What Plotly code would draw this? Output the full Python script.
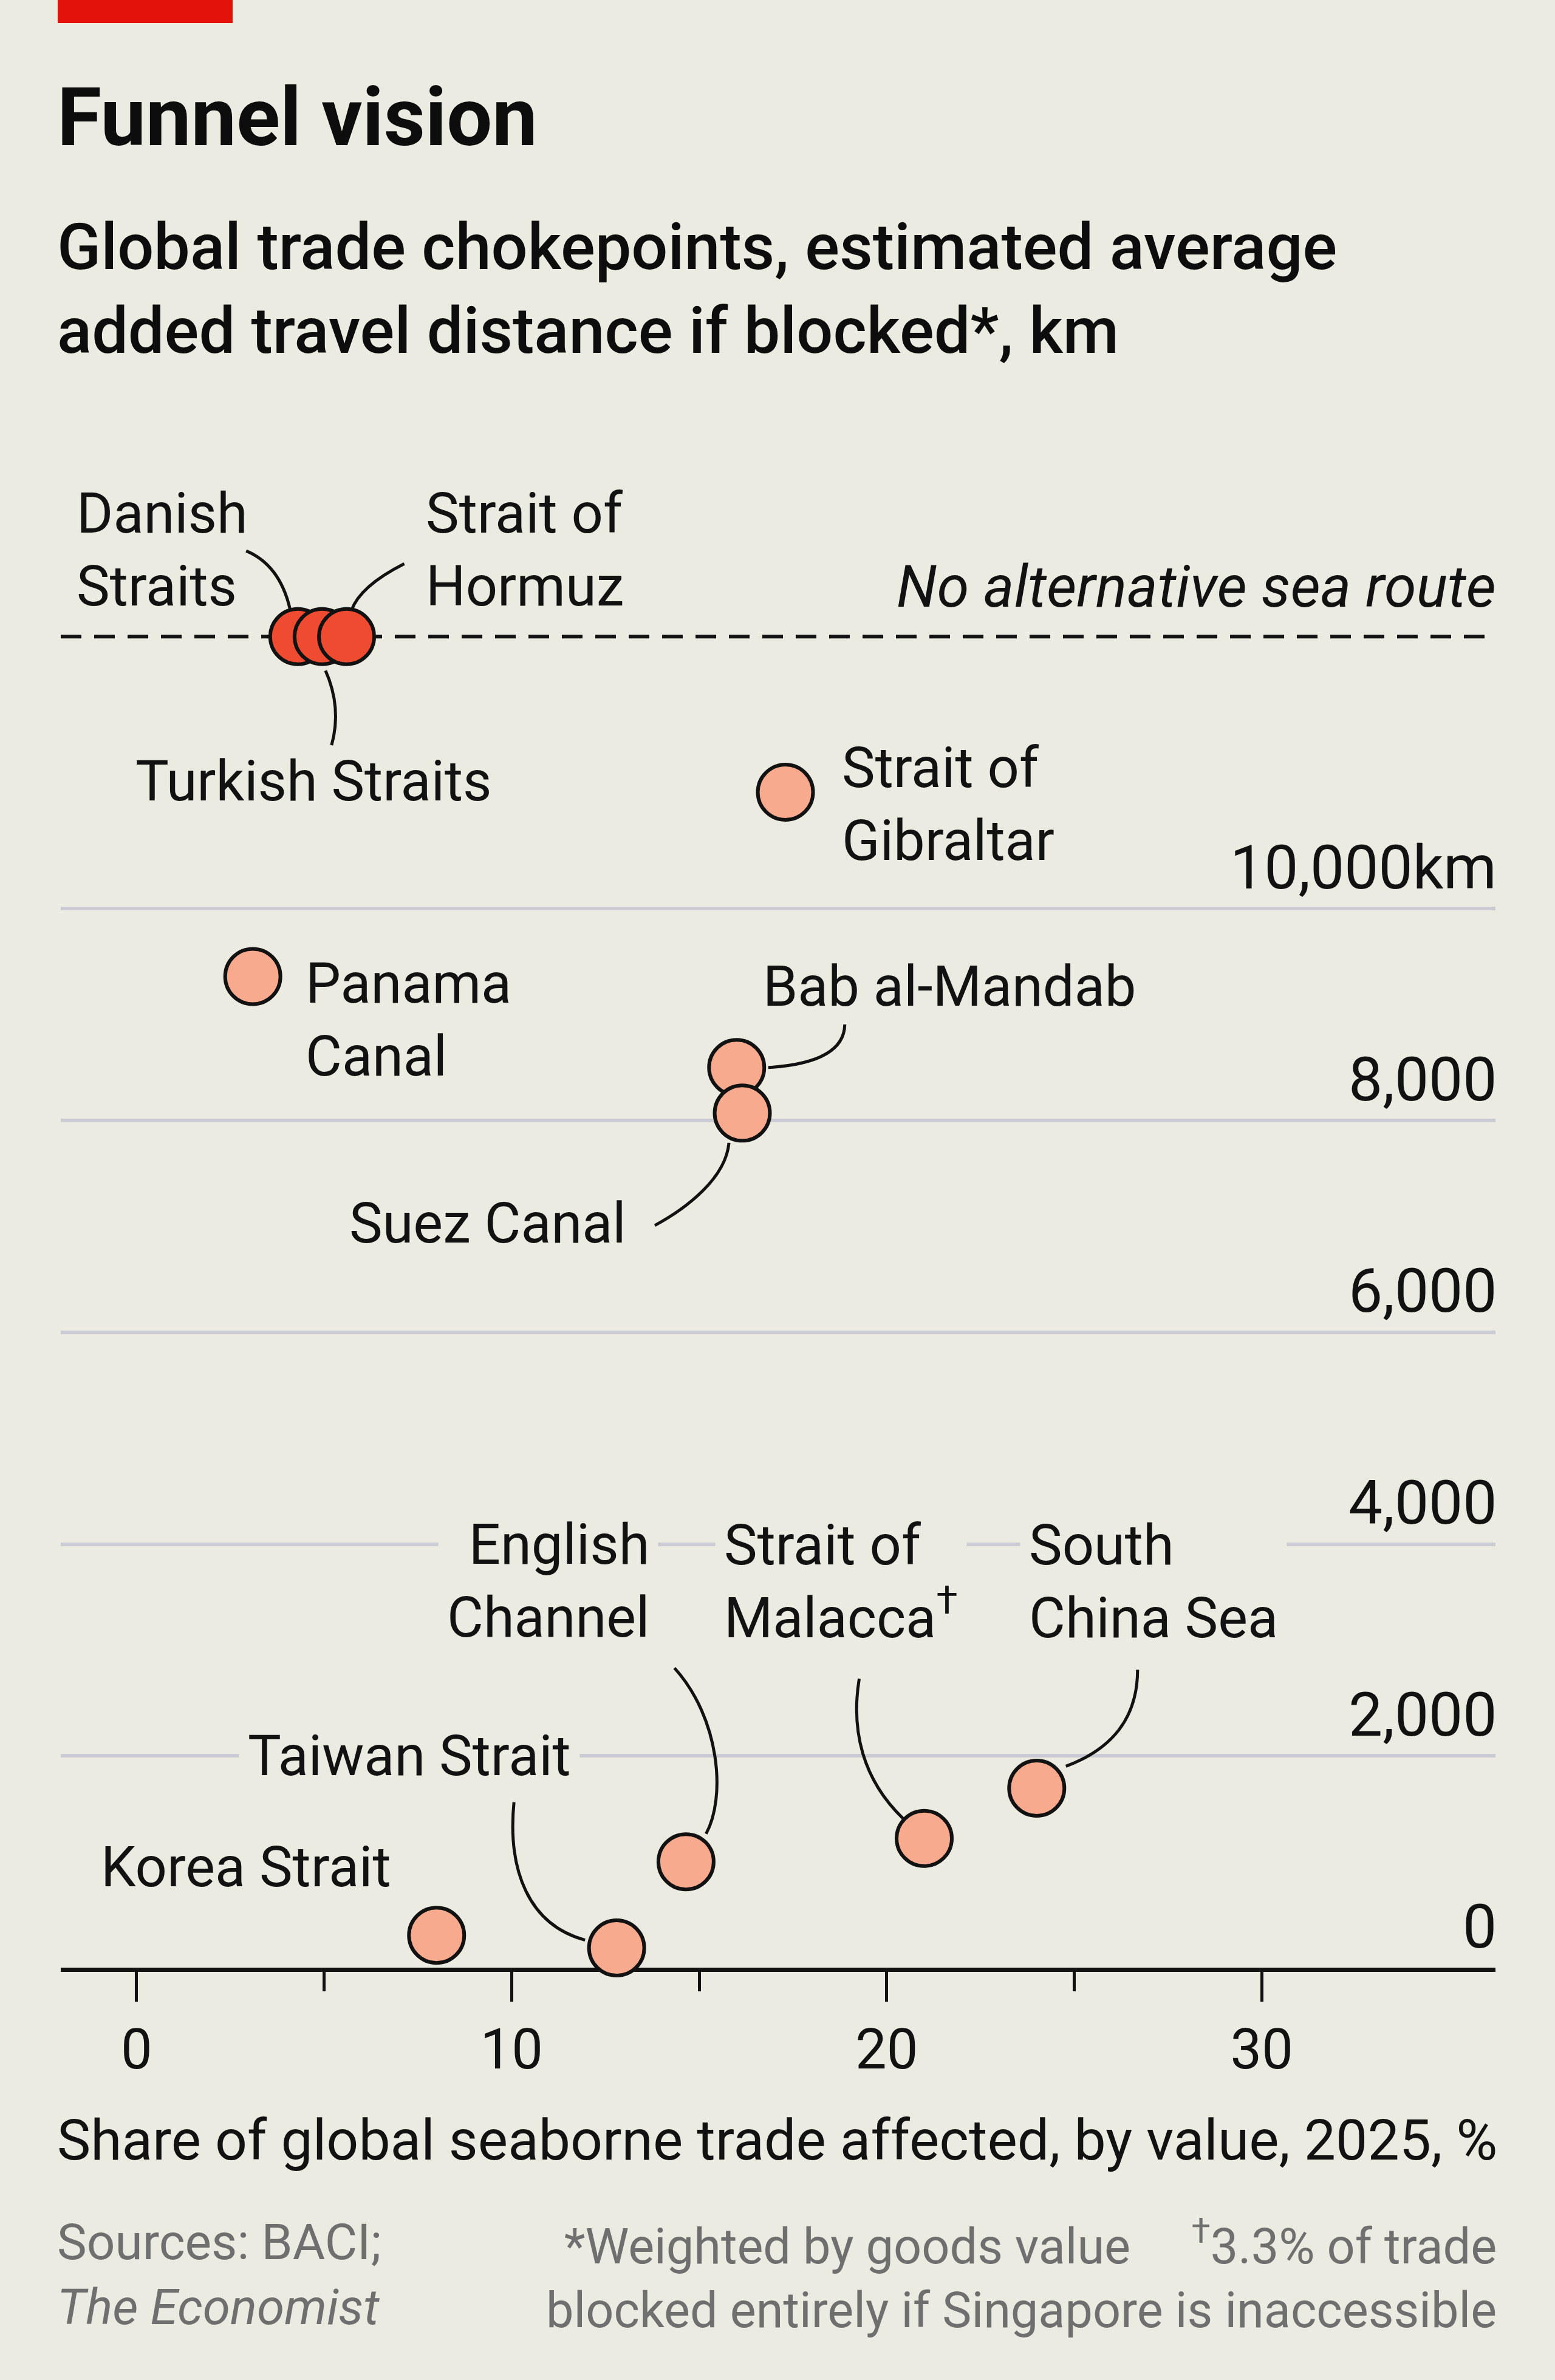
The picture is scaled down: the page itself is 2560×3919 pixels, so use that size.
import plotly.graph_objects as go

# ---------------- data ----------------
names = ["Panama Canal", "Strait of Gibraltar", "Bab al-Mandab", "Suez Canal",
         "Korea Strait", "Taiwan Strait", "English Channel", "Strait of Malacca",
         "South China Sea"]
share_pct = [3.1, 17.3, 16.0, 16.15, 8.0, 12.8, 14.65, 21.0, 24.0]
added_km = [9360, 11100, 8500, 8070, 305, 186, 1000, 1220, 1695]

noalt_names = ["Danish Straits", "Turkish Straits", "Strait of Hormuz"]
noalt_share_pct = [4.3, 4.95, 5.6]
NO_ALT_LEVEL_KM = 12570  # where the "no alternative sea route" row is drawn

x_tickvals = [0, 10, 20, 30]
x_ticktext = ["0", "10", "20", "30"]
x_minor_tickvals = [5, 15, 25]
y_tickvals = [0, 2000, 4000, 6000, 8000, 10000]
y_ticktext = ["0", "2,000", "4,000", "6,000", "8,000", "10,000km"]

# ---------------- layout constants ----------------
W, H = 2560, 3919
ML, MR, MT, MB = 100, 98, 780, 679
PW, PH = W - ML - MR, H - MT - MB
XR = [-2.02, 36.23]
YR = [0, 14108]
PXX = PW / (XR[1] - XR[0])
PXY = PH / (YR[1] - YR[0])

BG = "#ecebe1"
INK = "#121212"
GRID = "#cbcbd3"
SALMON = "#f7aa8d"
RED = "#ef4b30"
GREY = "#6f6f6f"
FONT = "Roboto, 'Noto Sans', sans-serif"
LBL = 92

def paper_y(ypx):
    return (MT + PH - ypx) / PH

def paper_x(xpx):
    return (xpx - ML) / PW

points = {n: (x, y) for n, x, y in zip(names, share_pct, added_km)}
for n, x in zip(noalt_names, noalt_share_pct):
    points[n] = (x, NO_ALT_LEVEL_KM)

def off(name, dx, dy):
    x, y = points[name]
    return x + dx / PXX, y - dy / PXY

fig = go.Figure()

fig.add_trace(go.Scatter(
    x=share_pct, y=added_km, mode="markers", text=names, cliponaxis=False,
    marker=dict(size=91, color=SALMON, line=dict(color=INK, width=6)),
    hoverinfo="text", showlegend=False))
fig.add_trace(go.Scatter(
    x=noalt_share_pct, y=[NO_ALT_LEVEL_KM] * len(noalt_share_pct), mode="markers",
    text=noalt_names, cliponaxis=False,
    marker=dict(size=91, color=RED, line=dict(color=INK, width=6)),
    hoverinfo="text", showlegend=False))

shapes = []
# dashed "no alternative" line
shapes.append(dict(type="line", xref="paper", x0=0, x1=1, yref="y",
                   y0=NO_ALT_LEVEL_KM, y1=NO_ALT_LEVEL_KM, layer="below",
                   line=dict(color=INK, width=6, dash="34px,21px")))
# red bar top-left
shapes.append(dict(type="rect", xref="paper", yref="paper",
                   x0=paper_x(95), x1=paper_x(383), y0=paper_y(38), y1=paper_y(-5),
                   fillcolor="#e3120b", line=dict(width=0)))

# leader lines: pixel offsets (down positive) relative to each point
leaders = {
    "Danish Straits": [(-85, -141), (-30, -118), (-13, -46)],
    "Strait of Hormuz": [(95, -120), (22, -83), (8, -43)],
    "Turkish Straits": [(5.5, 56), (32.5, 117), (15.5, 179)],
    "Bab al-Mandab": [(52, 0), (177, -8), (178, -71)],
    "Suez Canal": [(-144, 185), (-92, 157), (-27, 107), (-22, 49)],
    "English Channel": [(-19, -319), (56, -236), (66, -106), (33, -46)],
    "Strait of Malacca": [(-107, -263), (-121, -177), (-101, -97), (-35, -33)],
    "South China Sea": [(166, -195), (166, -114), (123, -64), (48, -36)],
    "Taiwan Strait": [(-169, -240), (-180, -128), (-145, -38), (-52, -13)],
}
for n, pts in leaders.items():
    c = [off(n, dx, dy) for dx, dy in pts]
    cmd = "Q" if len(c) == 3 else "C"
    path = f"M {c[0][0]},{c[0][1]} {cmd} " + " ".join(f"{a},{b}" for a, b in c[1:])
    shapes.append(dict(type="path", xref="x", yref="y", path=path, layer="above",
                       line=dict(color=INK, width=5)))

annotations = []
# point labels: (name, text, dx, dy_center, xanchor, with background)
labels = [
    ("Danish Straits", "Danish<br>Straits", -365, -143, "left", False),
    ("Strait of Hormuz", "Strait of<br>Hormuz", 129, -143, "left", False),
    ("Turkish Straits", "Turkish Straits", -308, 238, "left", False),
    ("Strait of Gibraltar", "Strait of<br>Gibraltar", 92, 20, "left", False),
    ("Panama Canal", "Panama<br>Canal", 86, 72, "left", False),
    ("Bab al-Mandab", "Bab al-Mandab", 42, -133, "left", False),
    ("Suez Canal", "Suez Canal", -190, 182, "right", False),
    ("English Channel", "English<br>Channel", -59, -462, "right", True),
    ("Strait of Malacca", "Strait of<br>Malacca<sup>†</sup>", -331, -423, "left", True),
    ("South China Sea", "South<br>China Sea", -14, -340, "left", True),
    ("Taiwan Strait", "Taiwan Strait", -608, -316, "left", True),
    ("Korea Strait", "Korea Strait", -554, -112, "left", False),
]
for n, txt, dx, dy, xa, bg in labels:
    x, y = points[n]
    pad = 14 if bg else 0
    annotations.append(dict(
        x=x, y=y, xref="x", yref="y", text=txt, showarrow=False,
        xanchor=xa, yanchor="middle", align=xa,
        xshift=dx - pad if xa == "left" else dx + pad, yshift=-dy,
        bgcolor=BG if bg else None, borderpad=pad,
        font=dict(family=FONT, size=LBL, color=INK)))

annotations.append(dict(
    x=1, xref="paper", y=NO_ALT_LEVEL_KM, yref="y", yshift=82,
    text="<i>No alternative sea route</i>", showarrow=False, xshift=3,
    xanchor="right", yanchor="middle", font=dict(family=FONT, size=96, color=INK)))

# y-axis tick labels, sitting just above each gridline at the right edge
for v, t in zip(y_tickvals, y_ticktext):
    annotations.append(dict(
        x=1, xref="paper", y=v, yref="y", yshift=68, text=t, showarrow=False,
        xanchor="right", yanchor="middle", xshift=4,
        font=dict(family=FONT, size=100, color=INK)))

# titles
annotations.append(dict(
    x=paper_x(92), y=paper_y(194), xref="paper", yref="paper", text="<b>Funnel vision</b>",
    showarrow=False, xanchor="left", yanchor="middle",
    font=dict(family=FONT, size=133, color="#0d0d0d")))
annotations.append(dict(
    x=paper_x(92), y=paper_y(476), xref="paper", yref="paper",
    text="Global trade chokepoints, estimated average<br>added travel distance if blocked*, km",
    showarrow=False, xanchor="left", yanchor="middle", align="left",
    font=dict(family=FONT, size=106, color="#0d0d0d", weight=500)))
# x-axis title
annotations.append(dict(
    x=paper_x(92), y=paper_y(3524), xref="paper", yref="paper",
    text="Share of global seaborne trade affected, by value, 2025, %",
    showarrow=False, xanchor="left", yanchor="middle",
    font=dict(family=FONT, size=93, color=INK)))
# footnotes
annotations.append(dict(
    x=paper_x(92), y=paper_y(3746), xref="paper", yref="paper",
    text="Sources: BACI;<br><i>The Economist</i>",
    showarrow=False, xanchor="left", yanchor="middle", align="left",
    font=dict(family=FONT, size=82, color=GREY)))
annotations.append(dict(
    x=1, y=paper_y(3746), xref="paper", yref="paper", xshift=4,
    text="*Weighted by goods value\u00a0\u00a0\u00a0\u00a0\u00a0<sup>†</sup>3.3% of trade<br>"
         "blocked entirely if Singapore is inaccessible",
    showarrow=False, xanchor="right", yanchor="middle", align="right",
    font=dict(family=FONT, size=81, color=GREY)))

fig.update_layout(
    width=W, height=H, margin=dict(l=ML, r=MR, t=MT, b=MB, pad=0),
    paper_bgcolor=BG, plot_bgcolor=BG, showlegend=False,
    shapes=shapes, annotations=annotations,
    xaxis=dict(range=XR, showgrid=False, zeroline=False, showline=True,
               linecolor=INK, linewidth=7, ticks="outside", ticklen=49,
               tickwidth=5, tickcolor=INK, tickvals=x_tickvals, ticktext=x_ticktext,
               tickfont=dict(family=FONT, size=92, color=INK), ticklabelstandoff=0,
               layer="below traces",
               minor=dict(tickvals=x_minor_tickvals, ticks="outside", ticklen=32,
                          tickwidth=5, tickcolor=INK)),
    yaxis=dict(range=YR, side="right", showgrid=True, gridcolor=GRID, gridwidth=6,
               zeroline=False, showline=False, ticks="", tickvals=y_tickvals,
               showticklabels=False, layer="below traces"),
)

fig.write_html(
    "out.html",
    config={"displayModeBar": False},
    post_script="document.body.style.margin='0';document.body.style.overflow='hidden';"
                "document.body.style.background='#ecebe1';")
